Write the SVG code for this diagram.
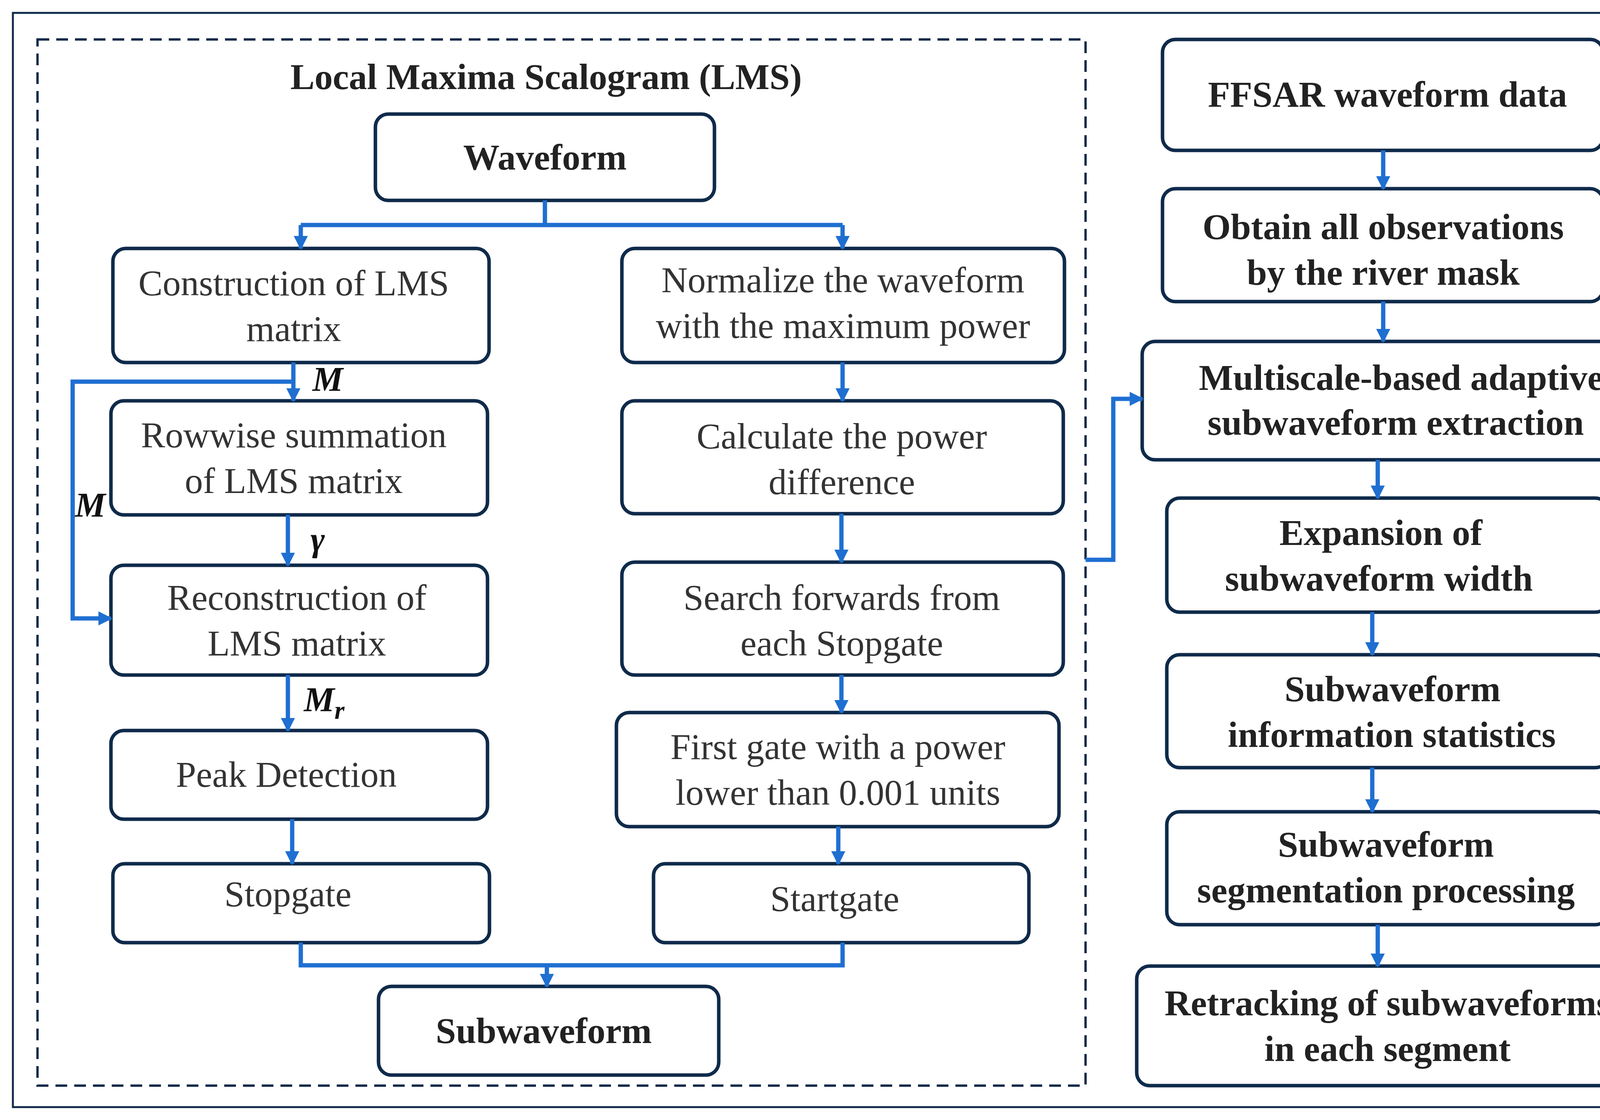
<svg xmlns="http://www.w3.org/2000/svg" width="4281" height="2867" viewBox="0 0 4281 2867">
<style>
.b{fill:#fff;stroke:#0f2a4a;stroke-width:9}
.t{font-family:"Liberation Serif",serif;font-size:93px;fill:#333;text-anchor:middle}
.tb{font-family:"Liberation Serif",serif;font-size:93px;font-weight:bold;fill:#222;text-anchor:middle}
.c{fill:none;stroke:#1f6fd1;stroke-width:11}
.l{font-family:"Liberation Serif",serif;font-size:88px;font-weight:bold;font-style:italic;fill:#111}
</style>
<defs><marker id="a" markerUnits="userSpaceOnUse" markerWidth="36" markerHeight="36" refX="32" refY="18" orient="auto"><path d="M0,0 L36,18 L0,36 Z" fill="#1f6fd1"/></marker></defs>
<rect width="4281" height="2867" fill="#fff"/>
<rect x="33" y="33" width="4212" height="2801" fill="none" stroke="#0f2a4a" stroke-width="5"/>
<rect x="96" y="101" width="2683" height="2678" fill="none" stroke="#0f2a4a" stroke-width="6" stroke-dasharray="30,18"/>
<text class="tb" x="1398" y="228">Local Maxima Scalogram (LMS)</text>
<g id="waveform"><rect class="b" x="961" y="292" width="868" height="221" rx="33"/><text class="tb" x="1395" y="434">Waveform</text></g>
<g id="construction"><rect class="b" x="289" y="636" width="963" height="292" rx="33"/><text class="t" x="752" y="756">Construction of LMS</text><text class="t" x="752" y="873">matrix</text></g>
<g id="rowwise"><rect class="b" x="284" y="1026" width="964" height="292" rx="33"/><text class="t" x="752" y="1145">Rowwise summation</text><text class="t" x="752" y="1262">of LMS matrix</text></g>
<g id="reconstruction"><rect class="b" x="284" y="1447" width="964" height="281" rx="33"/><text class="t" x="760" y="1561">Reconstruction of</text><text class="t" x="760" y="1678">LMS matrix</text></g>
<g id="peak"><rect class="b" x="284" y="1870" width="964" height="227" rx="33"/><text class="t" x="733" y="2014">Peak Detection</text></g>
<g id="stopgate"><rect class="b" x="289" y="2211" width="964" height="202" rx="30"/><text class="t" x="737" y="2320">Stopgate</text></g>
<g id="subwaveform"><rect class="b" x="969" y="2525" width="871" height="227" rx="33"/><text class="tb" x="1392" y="2670">Subwaveform</text></g>
<g id="normalize"><rect class="b" x="1592" y="636" width="1133" height="292" rx="33"/><text class="t" x="2158" y="748">Normalize the waveform</text><text class="t" x="2158" y="865">with the maximum power</text></g>
<g id="calculate"><rect class="b" x="1592" y="1026" width="1130" height="289" rx="33"/><text class="t" x="2155" y="1148">Calculate the power</text><text class="t" x="2155" y="1265">difference</text></g>
<g id="search"><rect class="b" x="1592" y="1439" width="1130" height="289" rx="33"/><text class="t" x="2155" y="1561">Search forwards from</text><text class="t" x="2155" y="1678">each Stopgate</text></g>
<g id="firstgate"><rect class="b" x="1578" y="1824" width="1133" height="292" rx="33"/><text class="t" x="2145" y="1943">First gate with a power</text><text class="t" x="2145" y="2060">lower than 0.001 units</text></g>
<g id="startgate"><rect class="b" x="1673" y="2211" width="961" height="202" rx="30"/><text class="t" x="2137" y="2332">Startgate</text></g>
<g id="ffsar"><rect class="b" x="2976" y="101" width="1128" height="284" rx="33"/><text class="tb" x="3552" y="273">FFSAR waveform data</text></g>
<g id="obtain"><rect class="b" x="2976" y="483" width="1128" height="289" rx="33"/><text class="tb" x="3541" y="612">Obtain all observations</text><text class="tb" x="3541" y="729">by the river mask</text></g>
<g id="multiscale"><rect class="b" x="2924" y="874" width="1272" height="303" rx="33"/><text class="tb" x="3587" y="998">Multiscale-based adaptive</text><text class="tb" x="3573" y="1113">subwaveform extraction</text></g>
<g id="expansion"><rect class="b" x="2987" y="1275" width="1130" height="292" rx="33"/><text class="tb" x="3535" y="1395">Expansion of</text><text class="tb" x="3530" y="1512">subwaveform width</text></g>
<g id="statistics"><rect class="b" x="2987" y="1676" width="1130" height="289" rx="33"/><text class="tb" x="3565" y="1795">Subwaveform</text><text class="tb" x="3563" y="1912">information statistics</text></g>
<g id="segmentation"><rect class="b" x="2987" y="2078" width="1130" height="289" rx="33"/><text class="tb" x="3548" y="2193">Subwaveform</text><text class="tb" x="3548" y="2310">segmentation processing</text></g>
<g id="retracking"><rect class="b" x="2910" y="2473" width="1270" height="306" rx="33"/><text class="tb" x="3552" y="2599">Retracking of subwaveforms</text><text class="tb" x="3552" y="2716">in each segment</text></g>
<g id="connectors">
<path class="c" d="M1395,513 V576 M770,576 H2157"/>
<path class="c" d="M770,576 V636" marker-end="url(#a)"/>
<path class="c" d="M2157,576 V636" marker-end="url(#a)"/>
<path class="c" d="M751,928 V1026" marker-end="url(#a)"/>
<path class="c" d="M751,977 H186 V1583 H284" marker-end="url(#a)"/>
<path class="c" d="M737,1318 V1447" marker-end="url(#a)"/>
<path class="c" d="M737,1728 V1870" marker-end="url(#a)"/>
<path class="c" d="M748,2097 V2211" marker-end="url(#a)"/>
<path class="c" d="M770,2413 V2471 H2157 V2413"/>
<path class="c" d="M1400,2471 V2525" marker-end="url(#a)"/>
<path class="c" d="M2157,928 V1026" marker-end="url(#a)"/>
<path class="c" d="M2154,1315 V1439" marker-end="url(#a)"/>
<path class="c" d="M2154,1728 V1824" marker-end="url(#a)"/>
<path class="c" d="M2146,2116 V2211" marker-end="url(#a)"/>
<path class="c" d="M2779,1433 H2850 V1021 H2924" marker-end="url(#a)"/>
<path class="c" d="M3541,385 V483" marker-end="url(#a)"/>
<path class="c" d="M3541,772 V874" marker-end="url(#a)"/>
<path class="c" d="M3527,1177 V1275" marker-end="url(#a)"/>
<path class="c" d="M3513,1567 V1676" marker-end="url(#a)"/>
<path class="c" d="M3513,1965 V2078" marker-end="url(#a)"/>
<path class="c" d="M3527,2367 V2473" marker-end="url(#a)"/>
<text class="l" x="800" y="1000">M</text>
<text class="l" x="192" y="1322">M</text>
<text class="l" x="795" y="1410">γ</text>
<text class="l" x="778" y="1820">M<tspan font-size="66" dy="20">r</tspan></text>
</g>
</svg>
